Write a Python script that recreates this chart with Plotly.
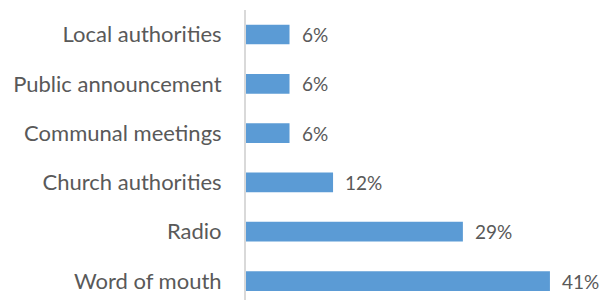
import plotly.graph_objects as go

categories = ["Word of mouth", "Radio", "Church authorities", "Communal meetings",
              "Public announcement", "Local authorities"]
values = [41.2, 29.4, 11.8, 5.9, 5.9, 5.9]

BAR = "#5B9BD5"
TXT = "#595959"
FONT = "Lato"

fig = go.Figure(go.Bar(
    y=categories, x=values, orientation="h",
    marker=dict(color=BAR, line=dict(width=0)),
    width=0.4, hoverinfo="skip",
))

for c, v in zip(categories, values):
    fig.add_annotation(x=v, y=c, text=f"{v:.0f}%", showarrow=False,
                       xanchor="left", xshift=10,
                       font=dict(family=FONT, size=19, color=TXT))

fig.update_layout(
    width=600, height=292,
    margin=dict(l=238, r=2, t=2, b=0),
    paper_bgcolor="white", plot_bgcolor="white",
    showlegend=False,
    xaxis=dict(range=[0, 48.8], showgrid=False, zeroline=False,
               showticklabels=False, showline=False, fixedrange=True),
    yaxis=dict(range=[-0.385, 5.497], showgrid=False, zeroline=False,
               showline=True, linecolor="#D9D9D9", linewidth=2,
               ticks="", ticklabelstandoff=18,
               tickfont=dict(family=FONT, size=22, color=TXT)),
)

fig.write_html("out.html")
